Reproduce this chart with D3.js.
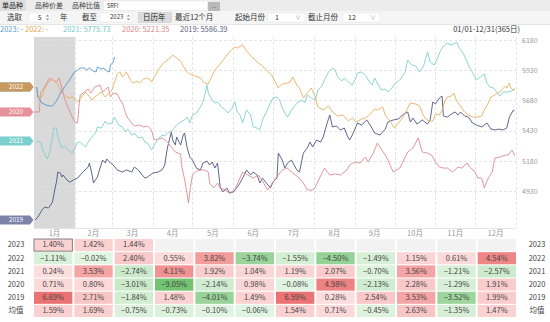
<!DOCTYPE html>
<html><head><meta charset="utf-8">
<script src="https://cdn.jsdelivr.net/npm/d3@7"></script>
<style>
html,body{margin:0;padding:0;background:#fff;}
svg{display:block;font-family:"Noto Sans CJK SC","Noto Sans",sans-serif;}
</style></head>
<body><svg id="c" width="550" height="322"></svg>
<script>
// ---------- data ----------
const months = ["1月","2月","3月","4月","5月","6月","7月","8月","9月","10月","11月","12月"];
const monthStarts = [0,31,59,90,120,151,181,212,243,273,304,334,365];
const yTicks = [6180,5930,5680,5430,5180,4930];
const years = ["2023","2022","2021","2020","2019"];
const legendValues = ["-","-","5775.73","5221.35","5586.39"];
const dateRange = "01/01-12/31(365日)";

const s2023 = [[2,5791],[3,5708],[6,5658],[9,5642],[12,5634],[14,5634],[17,5675],[20,5741],[23,5791],[27,5849],[30,5907],[33,5932],[35,5948],[38,5948],[40,5932],[42,5948],[45,5923],[47,5915],[48,5956],[51,5940],[53,5948],[55,5923],[57,5915],[58,5973],[60,5998],[61,6039]];
const s2022 = [[2,5791],[3,5716],[6,5708],[8,5774],[11,5832],[14,5857],[16,5832],[18,5816],[21,5741],[23,5725],[26,5700],[29,5708],[31,5691],[33,5667],[36,5708],[39,5749],[41,5725],[44,5683],[46,5708],[48,5725],[51,5749],[54,5708],[56,5733],[59,5766],[61,5832],[63,5898],[65,5915],[67,5874],[70,5915],[73,5849],[75,5824],[78,5840],[80,5824],[83,5857],[86,5865],[88,5849],[89,5832],[92,5890],[94,5932],[98,5990],[100,6006],[103,6031],[105,6056],[107,6039],[111,6006],[113,5965],[116,5915],[118,5898],[122,5882],[126,5865],[129,5824],[132,5816],[135,5890],[137,5932],[141,5981],[145,6039],[148,6081],[152,6122],[154,6114],[158,6139],[161,6089],[165,6039],[169,5998],[173,5965],[176,5932],[180,5890],[182,5849],[185,5783],[188,5816],[192,5824],[194,5832],[196,5874],[199,5807],[201,5783],[204,5700],[207,5741],[210,5783],[213,5708],[215,5625],[219,5600],[223,5634],[226,5584],[230,5551],[234,5559],[238,5509],[241,5534],[244,5501],[248,5526],[251,5534],[254,5559],[258,5609],[260,5600],[264,5625],[266,5559],[270,5501],[273,5451],[276,5493],[279,5534],[283,5617],[285,5658],[289,5650],[292,5634],[294,5576],[296,5534],[299,5509],[302,5509],[304,5567],[307,5559],[309,5600],[311,5667],[313,5708],[316,5716],[318,5741],[320,5675],[323,5634],[326,5584],[329,5559],[332,5542],[336,5542],[339,5551],[341,5600],[344,5658],[346,5708],[349,5725],[352,5741],[354,5766],[357,5799],[358,5783],[360,5824],[361,5783],[363,5766],[364,5783]];
const s2021 = [[2,5344],[5,5335],[7,5261],[10,5195],[12,5253],[14,5385],[15,5451],[17,5451],[18,5377],[21,5286],[23,5302],[26,5269],[29,5244],[31,5286],[33,5335],[35,5335],[39,5294],[42,5352],[45,5393],[47,5418],[48,5460],[51,5451],[54,5509],[56,5484],[59,5493],[61,5542],[64,5476],[67,5460],[69,5418],[71,5443],[74,5393],[76,5410],[79,5369],[82,5377],[84,5335],[86,5327],[89,5269],[92,5327],[94,5360],[97,5393],[99,5385],[101,5410],[105,5435],[108,5476],[111,5501],[114,5518],[116,5542],[118,5493],[120,5559],[123,5576],[126,5625],[128,5667],[129,5708],[131,5807],[132,5741],[135,5683],[137,5658],[139,5667],[142,5625],[145,5600],[147,5576],[150,5617],[152,5667],[154,5584],[156,5559],[158,5493],[161,5600],[164,5559],[166,5460],[169,5451],[171,5435],[173,5518],[176,5584],[179,5658],[181,5700],[184,5708],[186,5683],[188,5617],[190,5576],[192,5542],[195,5600],[198,5642],[200,5667],[203,5683],[205,5658],[207,5725],[210,5700],[213,5683],[215,5766],[218,5799],[220,5849],[223,5915],[226,5948],[228,5932],[230,5874],[233,5840],[235,5865],[238,5832],[241,5807],[243,5849],[245,5907],[248,5915],[251,5890],[253,5849],[256,5807],[258,5865],[260,5824],[263,5766],[266,5774],[268,5749],[271,5783],[273,5816],[277,5849],[281,5915],[283,6014],[286,5973],[289,5965],[292,5915],[295,5965],[298,6081],[300,5998],[303,5973],[305,6014],[307,6072],[310,6130],[313,6155],[315,6139],[318,6147],[320,6163],[322,6114],[325,6072],[328,5998],[330,5948],[332,5915],[335,5849],[338,5874],[341,5898],[343,5824],[345,5791],[348,5783],[351,5741],[353,5716],[355,5749],[358,5749],[362,5758],[364,5774]];
const s2020 = [[0,5584],[4,5584],[5,5741],[8,5791],[10,5832],[12,5865],[14,5849],[17,5832],[19,5865],[21,5791],[23,5700],[26,5617],[29,5542],[31,5501],[33,5493],[34,5625],[35,5725],[38,5749],[41,5774],[43,5741],[46,5791],[50,5807],[52,5749],[56,5791],[58,5708],[60,5741],[63,5733],[65,5691],[67,5658],[69,5584],[71,5534],[74,5493],[76,5468],[80,5476],[83,5460],[86,5468],[89,5435],[91,5352],[94,5360],[97,5369],[101,5335],[104,5294],[107,5253],[111,5236],[112,5128],[114,5029],[117,4830],[118,4930],[120,5062],[123,5095],[126,5104],[129,5104],[132,5087],[133,4996],[136,4955],[139,4996],[141,4955],[145,4938],[148,4913],[152,4938],[156,5037],[158,5087],[162,5062],[166,5037],[170,5062],[173,5013],[177,4938],[181,5004],[185,5062],[188,5104],[192,5120],[195,5087],[200,5046],[204,4996],[207,4938],[211,4938],[213,4963],[217,5054],[220,5120],[224,5062],[228,5071],[232,5062],[237,5104],[239,5145],[243,5170],[247,5162],[251,5211],[253,5170],[257,5244],[260,5327],[262,5294],[266,5228],[268,5186],[272,5087],[277,5120],[279,5162],[283,5253],[287,5286],[291,5369],[294,5253],[298,5244],[301,5228],[304,5170],[307,5128],[310,5120],[313,5120],[317,5087],[321,5128],[324,5120],[328,5162],[330,5128],[334,5087],[336,5037],[339,5037],[341,4955],[344,5037],[347,5087],[349,5203],[353,5211],[357,5228],[359,5228],[362,5269],[364,5220]];
const s2019 = [[1,4690],[3,4715],[6,4772],[8,4797],[11,4789],[14,4839],[15,4897],[16,4955],[17,5004],[18,5087],[20,5079],[21,5046],[22,5062],[25,5021],[27,5004],[30,5021],[33,5037],[37,5087],[41,5128],[42,5162],[44,5062],[45,4996],[48,5046],[50,5120],[52,5186],[54,5162],[55,5195],[58,5162],[60,5145],[63,5104],[67,5087],[70,5104],[74,5087],[76,5128],[79,5104],[82,5062],[84,5037],[86,5046],[90,5079],[94,5087],[97,5104],[99,5145],[101,5286],[104,5418],[105,5352],[107,5311],[108,5377],[111,5311],[113,5393],[114,5410],[116,5286],[118,5211],[120,5186],[123,5120],[126,5104],[128,5162],[131,5178],[133,5145],[135,5170],[137,5120],[139,5162],[141,4963],[143,4922],[146,4955],[148,4913],[151,4922],[154,4963],[156,4996],[158,5037],[161,5104],[164,5062],[166,5087],[169,5062],[171,4996],[173,5037],[176,4996],[179,4955],[181,5004],[184,5037],[185,5244],[188,5186],[190,5120],[192,5162],[195,5186],[199,5104],[201,5087],[204,5244],[207,5286],[209,5335],[211,5294],[214,5352],[217,5335],[219,5377],[222,5493],[224,5559],[226,5460],[229,5468],[232,5435],[235,5451],[237,5393],[239,5352],[241,5393],[245,5493],[248,5476],[252,5518],[255,5468],[258,5410],[262,5393],[266,5443],[268,5501],[272,5518],[276,5526],[279,5559],[283,5584],[285,5501],[287,5534],[290,5484],[294,5518],[298,5484],[300,5518],[302,5667],[304,5650],[307,5700],[309,5716],[310,5551],[313,5542],[316,5567],[319,5584],[321,5559],[323,5584],[326,5551],[329,5542],[332,5493],[335,5476],[339,5460],[343,5493],[346,5443],[349,5435],[352,5443],[355,5435],[358,5451],[360,5542],[363,5600],[364,5592]];

const tableRows = ["2023","2022","2021","2020","2019","均值"];
const ret2023 = [1.40,1.42,1.44,null,null,null,null,null,null,null,null,null];
const ret2022 = [-1.11,-0.02,2.40,0.55,3.82,-3.74,-1.55,-4.50,-1.49,1.15,0.61,4.54];
const ret2021 = [0.24,3.53,-2.74,4.11,1.92,1.04,1.19,2.07,-0.70,3.56,-1.21,-2.57];
const ret2020 = [0.71,0.80,-3.01,-9.05,-2.14,0.98,-0.08,4.98,-2.13,2.28,-1.29,1.91];
const ret2019 = [6.69,2.71,-1.84,1.48,-4.01,1.49,6.59,0.28,2.54,3.53,-3.52,1.99];
const retAvg  = [1.59,1.69,-0.75,-0.73,-0.10,-0.06,1.54,0.71,-0.45,2.63,-1.35,1.47];

// ---------- styles ----------
const lineColors = {"2023":"#5596c8","2022":"#e6b060","2021":"#7fd0cc","2020":"#e08a92","2019":"#4f557e"};
const legendColors = {"2023":"#5a9bd0","2022":"#e2a84e","2021":"#76c9c6","2020":"#d9868e","2019":"#5a5f80"};
const tagColors = {"2023":"#6a9ecb","2022":"#c99a5e","2021":"#7ccfcf","2020":"#e6909a","2019":"#7c82a8"};
const series = {"2023":s2023,"2022":s2022,"2021":s2021,"2020":s2020,"2019":s2019};
const retRows = [ret2023,ret2022,ret2021,ret2020,ret2019,retAvg];

const svg = d3.select("#c");
const FS = "7.5px";

// ---------- toolbar ----------
svg.append("rect").attr("x",0).attr("y",0).attr("width",550).attr("height",11).attr("fill","#ececec");
svg.append("rect").attr("x",0).attr("y",0).attr("width",26).attr("height",11).attr("fill","#dedede");
svg.append("rect").attr("x",0).attr("y",11).attr("width",550).attr("height",13).attr("fill","#f5f5f5");
svg.append("line").attr("x1",0).attr("x2",550).attr("y1",24.5).attr("y2",24.5).attr("stroke","#e6e6e6");
const tb1 = [["单品种",2,"#222"],["品种价差",35,"#444"],["品种比值",72,"#444"]];
tb1.forEach(t=>svg.append("text").attr("x",t[1]).attr("y",6).attr("dominant-baseline","middle")
  .attr("font-size","7px").attr("fill",t[2]).text(t[0]));
svg.append("rect").attr("x",104).attr("y",1.5).attr("width",103).attr("height",8.5).attr("fill","#fff");
svg.append("text").attr("x",107).attr("y",6).attr("dominant-baseline","middle").attr("font-size","5.5px").attr("fill","#333").text("SRFI");
svg.append("rect").attr("x",208).attr("y",2).attr("width",12).attr("height",9).attr("fill","#b9b9b9");
svg.append("text").attr("x",214).attr("y",8).attr("text-anchor","middle").attr("font-size","5px").attr("fill","#555").text("...");

function box(bx,w){svg.append("rect").attr("x",bx).attr("y",13).attr("width",w).attr("height",9).attr("fill","#fff").attr("stroke","#e2e2e2").attr("stroke-width",0.5);}
function spinner(sx){
  svg.append("path").attr("d",`M${sx},16.5 l2,-2 l2,2 z M${sx},18.5 l2,2 l2,-2 z`).attr("fill","#999");
}
box(29,22); box(100,32); box(268,37); box(343,37);
spinner(45.5); spinner(126.5);
svg.append("rect").attr("x",138.5).attr("y",12.5).attr("width",33).attr("height",10).attr("fill","#dcdcdc").attr("stroke","#c4c4c4").attr("stroke-width",0.5);
const tb2 = [["选取",7,FS,"#333"],["5",38,"6.5px","#333"],["年",60,FS,"#333"],["截至",82,FS,"#333"],["2023",110,"6px","#333"],
  ["日历年",143,FS,"#222"],["最近12个月",175,FS,"#333"],["起始月份",235,FS,"#333"],["1",275,"7px","#333"],["∨",295,"6px","#aaa"],
  ["截止月份",308,FS,"#333"],["12",348,"7px","#333"],["∨",370,"6px","#aaa"]];
tb2.forEach(t=>svg.append("text").attr("x",t[1]).attr("y",17.8).attr("dominant-baseline","middle")
  .attr("font-size",t[2]).attr("fill",t[3]).text(t[0]));

// ---------- legend ----------
const legX = [0,25,63,122,180];
years.forEach((yr,i)=>{
  svg.append("text").attr("x",legX[i]).attr("y",29.8).attr("dominant-baseline","middle")
    .attr("font-size",FS).attr("fill",legendColors[yr]).text(yr+": "+legendValues[i]);
});
svg.append("text").attr("x",520).attr("y",29.8).attr("dominant-baseline","middle").attr("text-anchor","end")
  .attr("font-size",FS).attr("fill","#333").text(dateRange);

// ---------- chart ----------
const xS = d3.scaleLinear().domain([0,365]).range([34,516]);
const yS = d3.scaleLinear().domain([4930,6180]).range([191,40]);
const plotTop = 37, plotBottom = 228;

svg.append("rect").attr("x",xS(monthStarts[0])).attr("y",plotTop).attr("width",xS(monthStarts[1])-xS(monthStarts[0]))
  .attr("height",plotBottom-plotTop).attr("fill","#d9d9d9");

const grid = svg.append("g");
grid.selectAll("line.h").data(yTicks).join("line").attr("class","h")
  .attr("x1",xS(0)).attr("x2",xS(365)).attr("y1",d=>Math.round(yS(d))+0.5).attr("y2",d=>Math.round(yS(d))+0.5)
  .attr("stroke","#dedede").attr("stroke-dasharray","3,2").attr("stroke-width",0.8);
grid.selectAll("line.v").data(monthStarts.slice(1)).join("line").attr("class","v")
  .attr("x1",d=>Math.round(xS(d))+0.5).attr("x2",d=>Math.round(xS(d))+0.5).attr("y1",plotTop).attr("y2",plotBottom)
  .attr("stroke","#dedede").attr("stroke-dasharray","3,2").attr("stroke-width",0.8);
svg.append("line").attr("x1",xS(0)).attr("x2",xS(365)).attr("y1",plotBottom+0.5).attr("y2",plotBottom+0.5).attr("stroke","#e4e4e4");

const yAxis = d3.axisRight(yS).tickValues(yTicks).tickSize(0).tickPadding(6).tickFormat(d3.format("d"));
const ya = svg.append("g").attr("transform",`translate(${xS(365)},0)`).call(yAxis);
ya.select(".domain").remove();
ya.selectAll("text").attr("font-size","7px").attr("fill","#999").attr("font-family","'Noto Sans CJK SC','Noto Sans',sans-serif");

const mid = months.map((m,i)=>({m, c:(monthStarts[i]+monthStarts[i+1])/2}));
svg.selectAll("text.mon").data(mid).join("text").attr("class","mon")
  .attr("x",d=>xS(d.c)).attr("y",234).attr("text-anchor","middle").attr("dominant-baseline","middle")
  .attr("font-size",FS).attr("fill","#999").text(d=>d.m);

const line = d3.line().x(d=>xS(d[0])).y(d=>yS(d[1]));
["2019","2020","2021","2022","2023"].forEach(yr=>{
  svg.append("path").datum(series[yr]).attr("d",line).attr("fill","none")
    .attr("stroke",lineColors[yr]).attr("stroke-width",0.9).attr("stroke-linejoin","round");
});

// tags at first value
["2023","2019","2021","2020","2022"].forEach(yr=>{
  const cy = yS(series[yr][0][1]);
  const g = svg.append("g").attr("transform",`translate(0,${cy})`);
  g.append("path").attr("d","M0,-4.5 L30,-4.5 L33.5,0 L30,4.5 L0,4.5 Z").attr("fill",tagColors[yr]);
  g.append("text").attr("x",16).attr("y",0.3).attr("text-anchor","middle").attr("dominant-baseline","middle")
    .attr("font-size","6.5px").attr("fill","#fff").text(yr);
});

// ---------- table ----------
const cx = d3.scaleBand().domain(months).range([34,516]).paddingInner(0.05);
const ry = d3.scaleBand().domain(tableRows).range([239,317]).paddingInner(0.08);
const posC = d3.scaleLinear().domain([0,3,3.5,4.5,7]).range(["#fde0e0","#f8c2c2","#f4a6a6","#ef8686","#ea6f6f"]).clamp(true);
const negC = d3.scaleLinear().domain([0,3.1,3.5,9.05]).range(["#e2f4e2","#c8e9c8","#9dd59d","#72c472"]).clamp(true);
tableRows.forEach((r,ri)=>{
  const vals = retRows[ri];
  const gy = ry(r);
  svg.append("text").attr("x",16).attr("y",gy+ry.bandwidth()/2+0.3).attr("text-anchor","middle").attr("dominant-baseline","middle")
    .attr("font-size",FS).attr("fill","#444").text(r);
  svg.append("text").attr("x",537).attr("y",gy+ry.bandwidth()/2+0.3).attr("text-anchor","middle").attr("dominant-baseline","middle")
    .attr("font-size",FS).attr("fill","#444").text(r);
  vals.forEach((v,ci)=>{
    const gx = cx(months[ci]);
    svg.append("rect").attr("x",gx).attr("y",gy).attr("width",cx.bandwidth()).attr("height",ry.bandwidth())
      .attr("fill", v==null ? "#f2f2f2" : (v>=0 ? posC(v) : negC(-v)))
      .attr("stroke", (ri===0&&ci===0) ? "#666" : "none").attr("stroke-width",0.8);
    if(v!=null){
      svg.append("text").attr("x",gx+cx.bandwidth()/2).attr("y",gy+ry.bandwidth()/2+0.3).attr("text-anchor","middle")
        .attr("dominant-baseline","middle").attr("font-size",FS).attr("fill","#444").text(d3.format(".2f")(v)+"%");
    }
  });
});
</script></body></html>
